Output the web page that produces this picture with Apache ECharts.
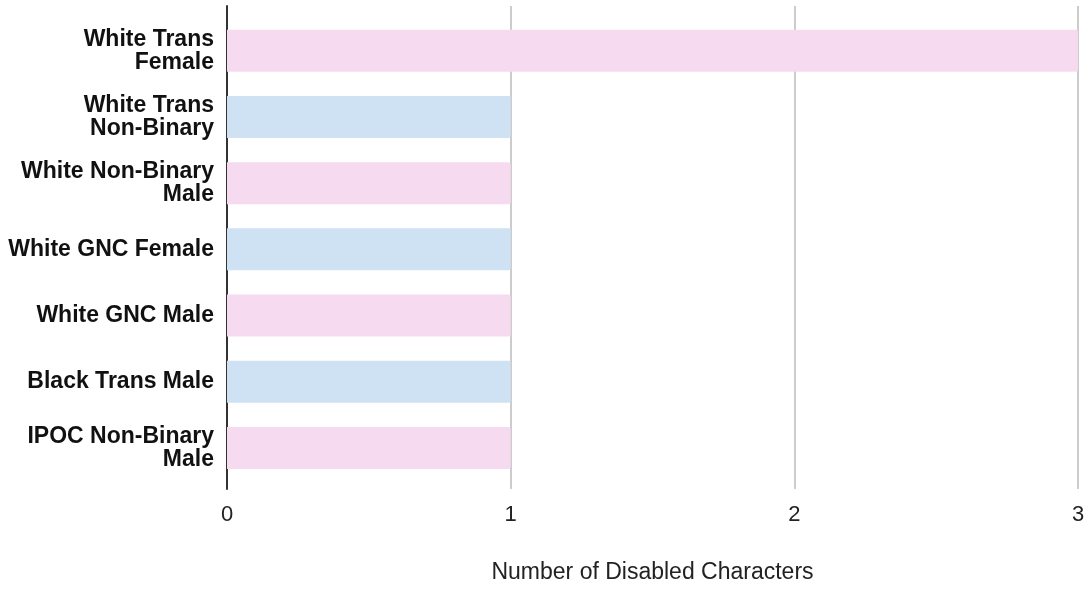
<!DOCTYPE html>
<html>
<head>
<meta charset="utf-8">
<script src="https://cdn.jsdelivr.net/npm/echarts@6/dist/echarts.min.js"></script>
<style>
html,body{margin:0;padding:0;background:#fff;}
#chartEle{width:1091px;height:589px;}
</style>
</head>
<body>
<div id="chartEle"></div>
<script>
var categories = ["White Trans\nFemale", "White Trans\nNon-Binary", "White Non-Binary\nMale", "White GNC Female", "White GNC Male", "Black Trans Male", "IPOC Non-Binary\nMale"];
var counts = [3, 1, 1, 1, 1, 1, 1];
var xTicks = [0, 1, 2, 3];

var myChart = echarts.init(document.getElementById("chartEle"));
var fontFam = "Arial, 'Liberation Sans', sans-serif";

// 粉色和蓝色交替
var barColors = ["#f6dbf0", "#cfe2f3"];

var option = {
    animation: false,
    grid: [
        { left: 227, right: 13, top: 6, bottom: 96 },
        { left: 227, right: 13, top: 17.7, bottom: 108 }
    ],
    xAxis: [
        {
            gridIndex: 0,
            type: 'value',
            min: xTicks[0],
            max: xTicks[xTicks.length - 1],
            interval: 1,
            axisLine: { show: false },
            axisTick: { show: false },
            splitLine: { show: true, lineStyle: { color: '#cccccc', width: 2 } },
            axisLabel: { margin: 15, color: '#222', fontSize: 22, fontFamily: fontFam },
            name: 'Number of Disabled Characters',
            nameLocation: 'middle',
            nameGap: 72,
            nameTextStyle: { color: '#222', fontSize: 23, fontFamily: fontFam }
        },
        {
            gridIndex: 1,
            type: 'value',
            min: xTicks[0],
            max: xTicks[xTicks.length - 1],
            show: false
        }
    ],
    yAxis: [
        {
            gridIndex: 0,
            type: 'value',
            min: 0,
            max: 1,
            axisLine: { show: true, lineStyle: { color: '#333', width: 2 } },
            axisTick: { show: false },
            axisLabel: { show: false },
            splitLine: { show: false }
        },
        {
            gridIndex: 1,
            type: 'category',
            inverse: true,
            data: categories,
            axisLine: { show: false },
            axisTick: { show: false },
            axisLabel: {
                margin: 13,
                color: '#111',
                fontSize: 23,
                fontWeight: 'bold',
                lineHeight: 23,
                fontFamily: fontFam
            }
        }
    ],
    series: [
        {
            type: 'bar',
            xAxisIndex: 1,
            yAxisIndex: 1,
            data: counts,
            barWidth: 42,
            itemStyle: {
                borderRadius: [0, 2, 2, 0],
                color: function (p) { return barColors[p.dataIndex % 2]; }
            }
        }
    ]
};

myChart.setOption(option, true);
</script>
</body>
</html>
